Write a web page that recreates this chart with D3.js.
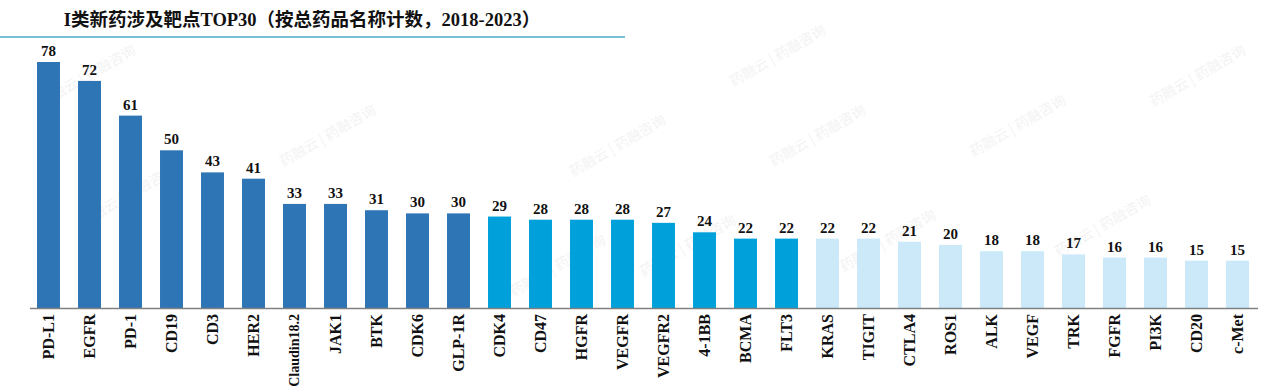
<!DOCTYPE html>
<html>
<head>
<meta charset="utf-8">
<script src="https://cdn.jsdelivr.net/npm/d3@7"></script>
<style>
  body { margin: 0; background: #fff; }
  svg { display: block; }
</style>
</head>
<body>
<svg width="1280" height="387"></svg>
<script>
// target names and counts
var targets = ["PD-L1", "EGFR", "PD-1", "CD19", "CD3", "HER2", "Claudin18.2", "JAK1", "BTK", "CDK6",
    "GLP-1R", "CDK4", "CD47", "HGFR", "VEGFR", "VEGFR2", "4-1BB", "BCMA", "FLT3", "KRAS",
    "TIGIT", "CTLA4", "ROS1", "ALK", "VEGF", "TRK", "FGFR", "PI3K", "CD20", "c-Met"];
var counts = [78, 72, 61, 50, 43, 41, 33, 33, 31, 30,
    30, 29, 28, 28, 28, 27, 24, 22, 22, 22,
    22, 21, 20, 18, 18, 17, 16, 16, 15, 15];
// colour group of each bar (0 = dark blue, 1 = cyan, 2 = light blue)
var groups = [0, 0, 0, 0, 0, 0, 0, 0, 0, 0,
    0, 1, 1, 1, 1, 1, 1, 1, 1, 2,
    2, 2, 2, 2, 2, 2, 2, 2, 2, 2];
var groupColors = ["#2E75B6", "#00A1DA", "#CCE9FA"];

var title = "I类新药涉及靶点TOP30（按总药品名称计数，2018-2023）";

var svg = d3.select("svg");
var baseY = 308;

// faint watermarks
var marks = [[90, 80], [330, 140], [620, 150], [820, 140], [1020, 130],
    [130, 200], [560, 270], [690, 250], [890, 245], [1105, 230], [1200, 80], [780, 60]];
svg.append("g")
    .selectAll("text")
    .data(marks)
    .enter()
    .append("text")
    .attr("transform", d => "translate(" + d[0] + "," + d[1] + ") rotate(-30)")
    .attr("text-anchor", "middle")
    .style("font-family", "Noto Sans CJK SC")
    .style("font-size", "14px")
    .style("fill", "#f3f3f3")
    .text("药融云 | 药融咨询");

var x = d3.scaleBand()
    .domain(targets)
    .range([28, 1258])
    .paddingInner(0.44)
    .paddingOuter(0.22);

var y = d3.scaleLinear()
    .domain([0, 78])
    .range([baseY, 62]);

// title + underline
svg.append("text")
    .attr("x", 302)
    .attr("y", 26)
    .attr("text-anchor", "middle")
    .style("font-family", "Liberation Serif, Noto Sans CJK SC")
    .style("font-size", "18.5px")
    .style("font-weight", "bold")
    .style("fill", "#111")
    .text(title);

svg.append("line")
    .attr("x1", 0).attr("x2", 625)
    .attr("y1", 37).attr("y2", 37)
    .style("stroke", "#4BACC6")
    .style("stroke-width", 1.5);

var data = targets.map((t, i) => ({ name: t, value: counts[i], group: groups[i] }));

svg.append("g")
    .selectAll("rect")
    .data(data)
    .enter()
    .append("rect")
    .attr("x", d => x(d.name))
    .attr("y", d => y(d.value))
    .attr("width", x.bandwidth())
    .attr("height", d => baseY - y(d.value))
    .style("fill", d => groupColors[d.group]);

// value labels
svg.append("g")
    .selectAll("text")
    .data(data)
    .enter()
    .append("text")
    .attr("x", d => x(d.name) + x.bandwidth() / 2)
    .attr("y", d => y(d.value) - 6)
    .attr("text-anchor", "middle")
    .style("font-family", "Liberation Serif")
    .style("font-size", "15px")
    .style("font-weight", "bold")
    .style("fill", "#111")
    .text(d => d.value);

// x axis
var xAxis = svg.append("g")
    .attr("transform", "translate(0," + baseY + ")")
    .call(d3.axisBottom(x).tickSize(0).tickPadding(0));

xAxis.select(".domain")
    .attr("d", "M30,0.5H1258")
    .style("stroke", "#808080")
    .style("stroke-width", 1.5);

xAxis.selectAll("text")
    .attr("transform", "rotate(-90)")
    .attr("x", -6)
    .attr("y", 0)
    .attr("dy", "0.35em")
    .attr("text-anchor", "end")
    .style("font-family", "Liberation Serif")
    .style("font-size", d => d === "Claudin18.2" ? "14px" : "16px")
    .style("font-weight", "bold")
    .style("fill", "#111");
</script>
</body>
</html>
